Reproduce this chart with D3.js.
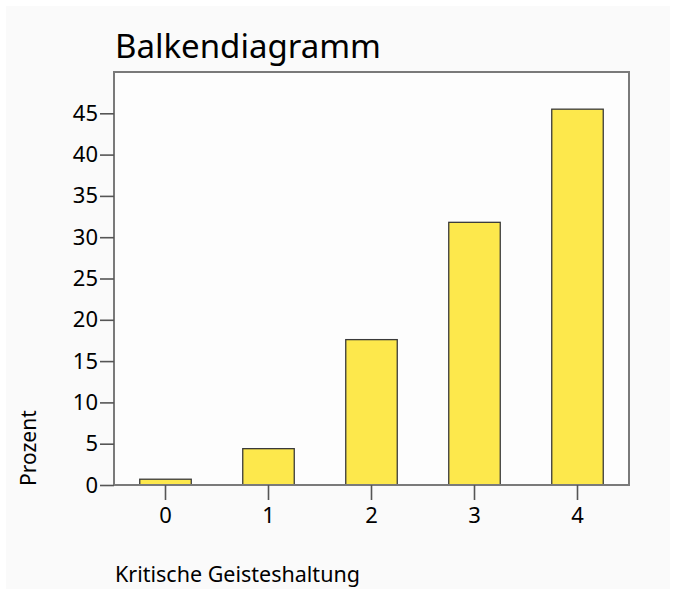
<!DOCTYPE html>
<html>
<head>
<meta charset="utf-8">
<script src="https://cdn.jsdelivr.net/npm/d3@7/dist/d3.min.js"></script>
<style>
  html, body { margin: 0; padding: 0; background: #ffffff; }
  svg { display: block; }
  text { font-family: "Noto Sans", "DejaVu Sans", sans-serif; fill: #000; }
</style>
</head>
<body>
<script>
// Kategorien der Variable und Prozentwerte je Kategorie
const categories = ["0", "1", "2", "3", "4"];
const percentValues = [0.7, 4.4, 17.6, 31.8, 45.5];
const yTickValues = [0, 5, 10, 15, 20, 25, 30, 35, 40, 45];

const chartTitle = "Balkendiagramm";
const xAxisTitle = "Kritische Geisteshaltung";
const yAxisTitle = "Prozent";

const W = 676, H = 589;
const frame = { left: 114, top: 72, right: 629, bottom: 485 };
const fontFamily = "Noto Sans, DejaVu Sans, sans-serif";

const svg = d3.select("body").append("svg")
  .attr("width", W).attr("height", H);

// heller Hintergrund des Diagrammbereichs
svg.append("rect")
  .attr("x", 6).attr("y", 6).attr("width", W - 12).attr("height", H - 6)
  .attr("fill", "#fafafa");

svg.append("rect")
  .attr("x", frame.left).attr("y", frame.top)
  .attr("width", frame.right - frame.left).attr("height", frame.bottom - frame.top)
  .attr("fill", "#fdfdfd");

const x = d3.scaleBand()
  .domain(categories)
  .range([frame.left, frame.right])
  .paddingInner(0.5)
  .paddingOuter(0.25);

const y = d3.scaleLinear()
  .domain([0, 50])
  .range([frame.bottom, frame.top]);

// Balken
svg.append("g").selectAll("rect")
  .data(categories.map((c, i) => ({ c, v: percentValues[i] })))
  .join("rect")
  .attr("x", d => x(d.c))
  .attr("y", d => y(d.v))
  .attr("width", x.bandwidth())
  .attr("height", d => y(0) - y(d.v))
  .attr("fill", "#fde84c")
  .attr("stroke", "#3a3a3a")
  .attr("stroke-width", 1.3);

// Rahmen um den Plotbereich
svg.append("rect")
  .attr("x", frame.left).attr("y", frame.top)
  .attr("width", frame.right - frame.left).attr("height", frame.bottom - frame.top)
  .attr("fill", "none")
  .attr("stroke", "#7a7a7a")
  .attr("stroke-width", 2);

// y-Achse
const yAxis = svg.append("g")
  .attr("transform", `translate(${frame.left},0)`)
  .call(d3.axisLeft(y).tickValues(yTickValues).tickSize(14).tickPadding(2).tickFormat(d3.format("d")));
yAxis.select(".domain").remove();
yAxis.selectAll(".tick line").attr("stroke", "#555").attr("stroke-width", 1.6);
yAxis.selectAll(".tick text").attr("font-size", 22).attr("fill", "#000")
  .attr("font-family", fontFamily);

// x-Achse
const xAxis = svg.append("g")
  .attr("transform", `translate(0,${frame.bottom})`)
  .call(d3.axisBottom(x).tickSize(15).tickPadding(7));
xAxis.select(".domain").remove();
xAxis.selectAll(".tick line").attr("stroke", "#555").attr("stroke-width", 1.6);
xAxis.selectAll(".tick text").attr("font-size", 22).attr("fill", "#000")
  .attr("font-family", fontFamily);

// Titel
svg.append("text")
  .attr("x", 115).attr("y", 58)
  .attr("font-size", 33)
  .text(chartTitle);

// Achsentitel
svg.append("text")
  .attr("x", 115).attr("y", 582)
  .attr("font-size", 21.5)
  .text(xAxisTitle);

svg.append("text")
  .attr("transform", "translate(36,486) rotate(-90)")
  .attr("font-size", 21)
  .text(yAxisTitle);
</script>
</body>
</html>
